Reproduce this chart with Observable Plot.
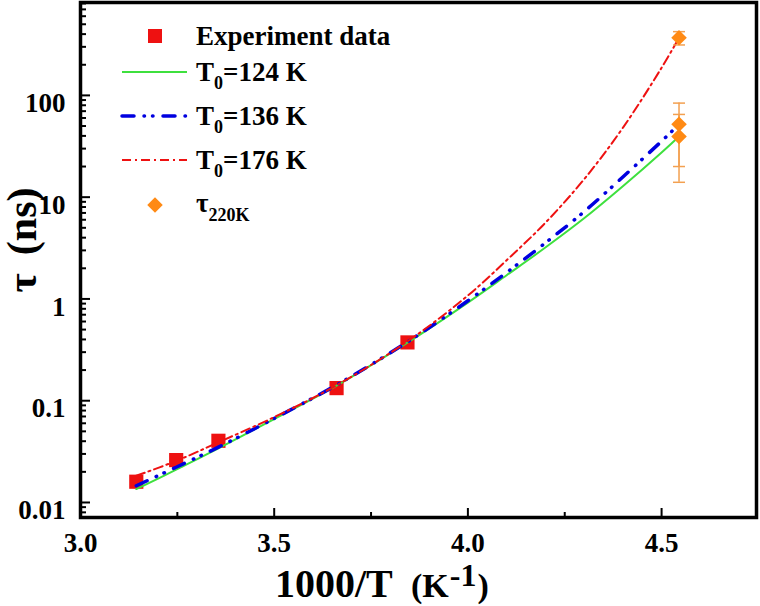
<!DOCTYPE html>
<html>
<head>
<meta charset="utf-8">
<script src="https://cdn.jsdelivr.net/npm/d3@7"></script>
<script src="https://cdn.jsdelivr.net/npm/@observablehq/plot@0.6"></script>
<style>
  body { margin: 0; background: white; }
  #chart svg { display: block; }
</style>
</head>
<body>
<div id="chart"></div>
<script>
// experiment points (1000/T, tau in ns)
const expX = [3.144, 3.247, 3.356, 3.661, 3.844];
const expTau = [0.016, 0.0261, 0.0404, 0.133, 0.374];

// fit curves
const curveX = [3.144, 3.247, 3.356, 3.5, 3.66, 3.845, 4.0, 4.1, 4.2, 4.3, 4.4, 4.5, 4.545];
const fit124 = [0.01355, 0.021, 0.034, 0.066, 0.14, 0.374, 0.92, 1.71, 3.2, 6.2, 12.8, 27.5, 39.5];
const fit136 = [0.0146, 0.0222, 0.035, 0.067, 0.142, 0.38, 0.96, 1.82, 3.55, 7.2, 15.8, 35.5, 52];
const fit176 = [0.0183, 0.0256, 0.039, 0.069, 0.141, 0.385, 1.08, 2.4, 5.6, 15, 48, 187, 368];

// tau at 220 K with error bars
const t220X = [4.545, 4.545, 4.545];
const t220Tau = [368, 52, 39.5];
const t220Err = [55, 32, 25.5];

const xTicks = [3.0, 3.5, 4.0, 4.5];
const xMinor = [3.25, 3.75, 4.25];
const yTicks = [0.01, 0.1, 1, 10, 100];

const W = 760, H = 606;
const mL = 80, mR = 4, mT = 2, mB = 89;
const plotW = W - mL - mR;
const plotH = H - mT - mB;
const xDomain = [3.0, 4.745];
const yDomain = [0.00712, 818];
const serif = "Liberation Serif, Times New Roman, serif";

const yMinor = [];
for (const p of [-3, -2, -1, 0, 1, 2]) {
  for (let k = 2; k <= 9; k++) {
    const v = k * Math.pow(10, p);
    if (v >= yDomain[0] && v <= yDomain[1]) yMinor.push(v);
  }
}

const expRows = expX.map((x, i) => ({x, tau: expTau[i]}));
const fitRows = curveX.map((x, i) => ({x, t124: fit124[i], t136: fit136[i], t176: fit176[i]}));
const t220Rows = t220X.map((x, i) => ({x, tau: t220Tau[i], lo: t220Tau[i] - t220Err[i], hi: t220Tau[i] + t220Err[i]}));

const green = "#3ee03e", blue = "#0000e0", red = "#ee1111", orange = "#ff8a14", errColor = "#f3a050";
const blueDash = "12,10,0.5,8,0.5,10";
const redDash = "9,4,2,4";

// horizontal cap for the error bars
const capSymbol = {
  draw(ctx, size) {
    const w = Math.sqrt(size / Math.PI);
    ctx.moveTo(-w, 0);
    ctx.lineTo(w, 0);
  }
};

const tickFont = {fontFamily: serif, fontSize: 27, fontWeight: "bold"};

const chart = Plot.plot({
  width: W,
  height: H,
  marginLeft: mL,
  marginRight: mR,
  marginTop: mT,
  marginBottom: mB,
  style: {fontFamily: serif, fontWeight: "bold", fontSize: "26px", background: "white", color: "black"},
  x: {domain: xDomain, label: null},
  y: {type: "log", domain: yDomain, label: null},
  marks: [
    Plot.axisX(xTicks, {tickSize: 0, tickPadding: 15, tickFormat: d => d.toFixed(1), ...tickFont}),
    Plot.axisY(yTicks, {tickSize: 0, tickPadding: 15, tickFormat: d => String(d), dy: 8, ...tickFont}),
    // inward ticks
    Plot.tickY(yTicks, {y: d => d, insetRight: plotW - 10, stroke: "black", strokeWidth: 2}),
    Plot.tickY(yMinor, {y: d => d, insetRight: plotW - 6, stroke: "black", strokeWidth: 2}),
    Plot.tickX(xTicks, {x: d => d, insetTop: plotH - 9, stroke: "black", strokeWidth: 2}),
    Plot.tickX(xMinor, {x: d => d, insetTop: plotH - 5, stroke: "black", strokeWidth: 2}),
    Plot.dot(expRows, {x: "x", y: "tau", symbol: "square", r: 8, fill: red, stroke: "none"}),
    Plot.line(fitRows, {x: "x", y: "t124", stroke: green, strokeWidth: 2, curve: "catmull-rom"}),
    Plot.line(fitRows, {x: "x", y: "t136", stroke: blue, strokeWidth: 3.5, strokeDasharray: blueDash, strokeLinecap: "round", curve: "catmull-rom"}),
    Plot.line(fitRows, {x: "x", y: "t176", stroke: red, strokeWidth: 2, strokeDasharray: redDash, curve: "catmull-rom"}),
    Plot.ruleX(t220Rows, {x: "x", y1: "lo", y2: "hi", stroke: errColor, strokeWidth: 1.5}),
    Plot.dot(t220Rows, {x: "x", y: "lo", symbol: capSymbol, r: 6, fill: "none", stroke: errColor, strokeWidth: 1.5}),
    Plot.dot(t220Rows, {x: "x", y: "hi", symbol: capSymbol, r: 6, fill: "none", stroke: errColor, strokeWidth: 1.5}),
    Plot.dot(t220Rows, {x: "x", y: "tau", symbol: "diamond2", r: 7, fill: orange, stroke: "none"}),
    Plot.frame({stroke: "black", strokeWidth: 3.5})
  ]
});

const svg = d3.select(chart).attr("font-family", serif);

// axis titles
const xt = svg.append("text")
  .attr("x", 275).attr("y", 597)
  .attr("text-anchor", "start")
  .attr("font-family", serif).attr("font-weight", "bold").attr("fill", "black");
xt.append("tspan").attr("font-size", 40).text("1000/T");
xt.append("tspan").attr("x", 411).attr("font-size", 34).text("(K");
xt.append("tspan").attr("font-size", 32).attr("dy", -11).attr("dx", 1).text("-1");
xt.append("tspan").attr("font-size", 34).attr("dy", 11).attr("dx", 1).text(")");

const yt = svg.append("text")
  .attr("transform", "translate(36,240) rotate(-90)")
  .attr("text-anchor", "middle")
  .attr("font-family", serif).attr("font-weight", "bold").attr("fill", "black")
  .attr("font-size", 42);
yt.append("tspan").text("τ");
yt.append("tspan").attr("dx", 18).text("(ns)");

// legend
const leg = svg.append("g")
  .attr("text-anchor", "start")
  .attr("font-family", serif).attr("font-weight", "bold").attr("fill", "black");
leg.append("rect").attr("x", 148).attr("y", 29).attr("width", 14).attr("height", 14).attr("fill", red);
leg.append("text").attr("x", 196).attr("y", 45).attr("font-size", 27).text("Experiment data");

const legLines = [
  {y: 72, stroke: green, width: 2, dash: null, label: "=124 K"},
  {y: 116, stroke: blue, width: 3.5, dash: blueDash, label: "=136 K"},
  {y: 160, stroke: red, width: 2, dash: redDash, label: "=176 K"}
];
legLines.forEach(d => {
  leg.append("line")
    .attr("x1", 122).attr("x2", 187).attr("y1", d.y).attr("y2", d.y)
    .attr("stroke", d.stroke).attr("stroke-width", d.width)
    .attr("stroke-dasharray", d.dash)
    .attr("stroke-linecap", d.dash === blueDash ? "round" : "butt");
  const t = leg.append("text").attr("x", 196).attr("y", d.y + 9).attr("font-size", 27);
  t.append("tspan").text("T");
  t.append("tspan").attr("font-size", 18).attr("dy", 8).text("0");
  t.append("tspan").attr("dy", -8).text(d.label);
});

leg.append("path")
  .attr("transform", "translate(155,205)")
  .attr("d", d3.symbol(d3.symbolDiamond2, Math.PI * 49)())
  .attr("fill", orange);
const tt = leg.append("text").attr("x", 196).attr("y", 212).attr("font-size", 27);
tt.append("tspan").text("τ");
tt.append("tspan").attr("font-size", 18).attr("dy", 9).text("220K");

d3.select("#chart").append(() => chart);
</script>
</body>
</html>
